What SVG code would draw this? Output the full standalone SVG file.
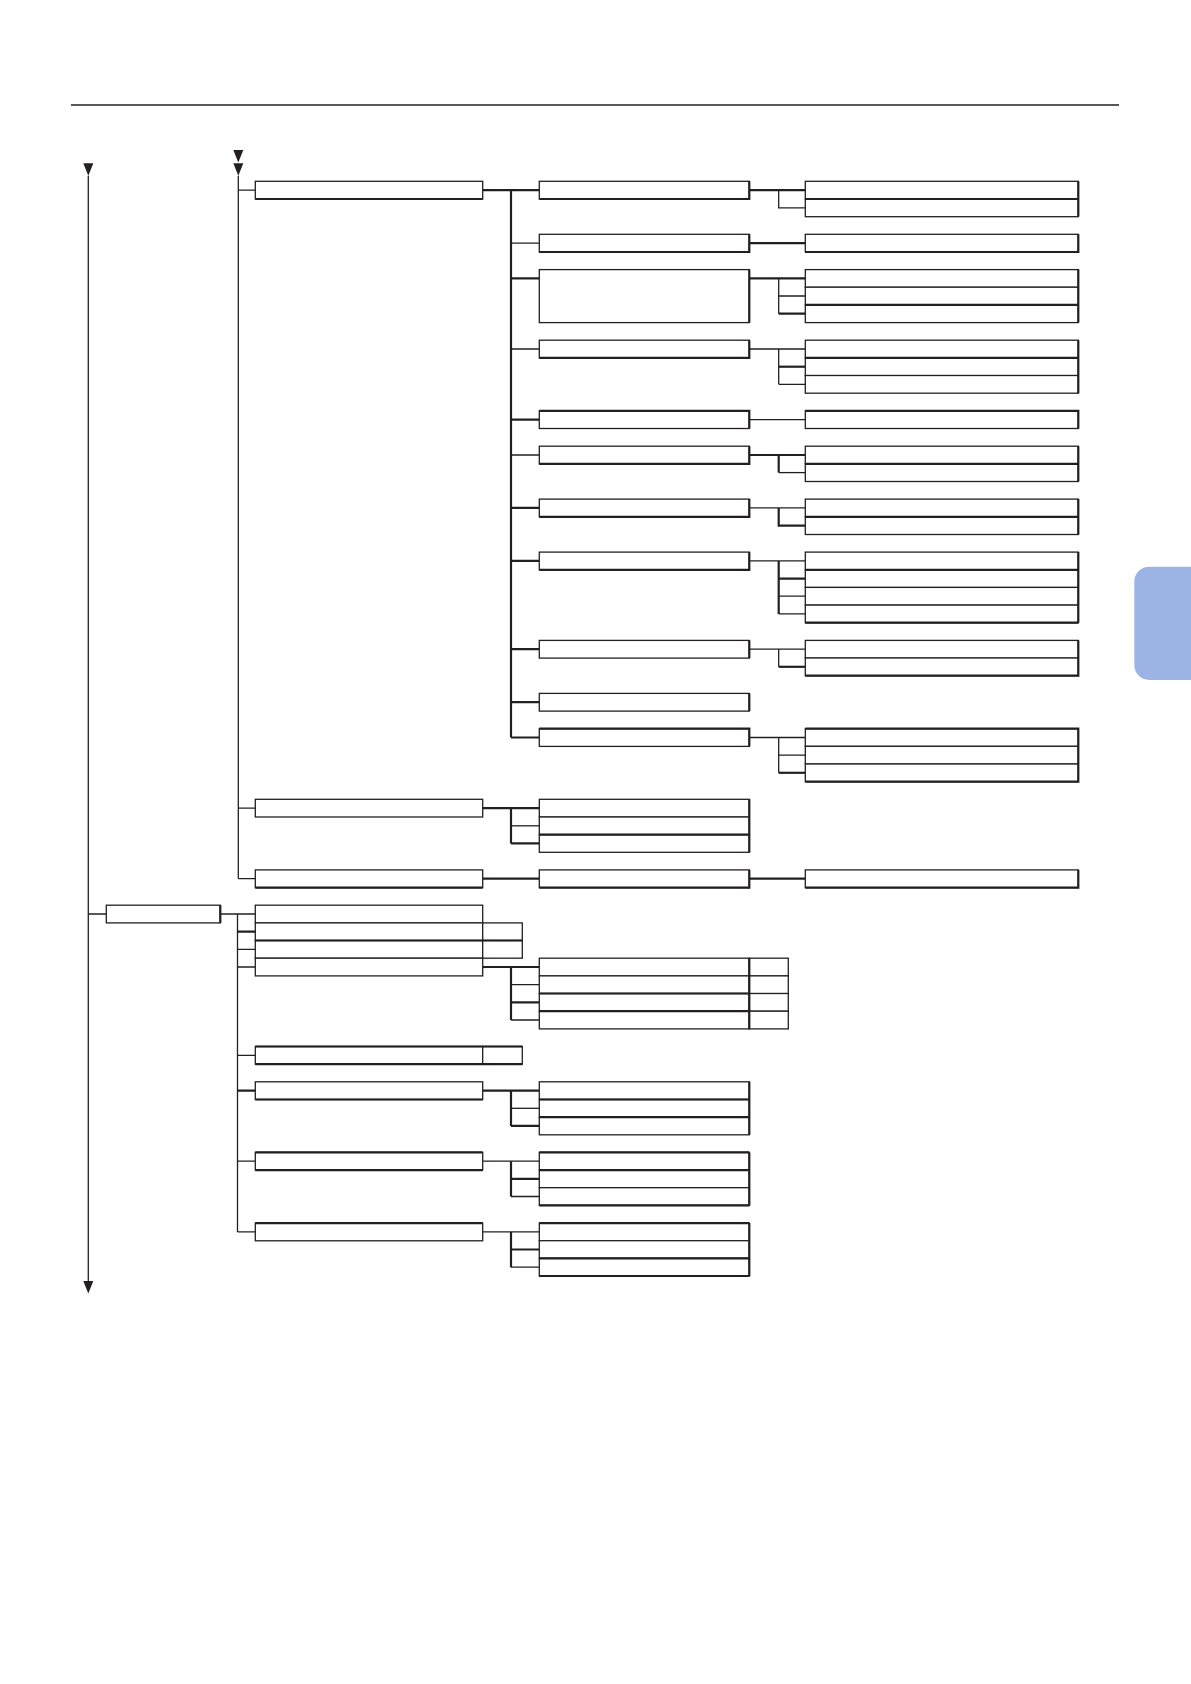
<svg xmlns="http://www.w3.org/2000/svg" width="1191" height="1684" viewBox="0 0 1191 1684">
<style>
.b{fill:#fff;stroke:#231f20;stroke-width:1.3}
.k{fill:none;stroke:#231f20;stroke-width:2.2}
.c{fill:none;stroke:#231f20;stroke-width:1.3}
.ck{fill:none;stroke:#231f20;stroke-width:2.2}
.ah{fill:#231f20}
</style>
<defs>
<path id="arr" d="M-5 0H5L0 12.4Z"/>
</defs>
<rect width="1191" height="1684" fill="#fff"/>
<path d="M71 105H1119" stroke="#231f20" stroke-width="1.3"/>
<path d="M1191 566.7H1149.3A15 15 0 0 0 1134.3 581.7V665A15 15 0 0 0 1149.3 680H1191Z" fill="#9bb4e3"/>

<g id="connectors">
<path class="c" d="M88.3 175.7V1281"/>
<use href="#arr" class="ah" x="88.3" y="163.3"/>
<use href="#arr" class="ah" x="88.3" y="1281"/>
<path class="c" d="M238.3 175.7V878.7"/>
<use href="#arr" class="ah" x="238.3" y="150"/>
<use href="#arr" class="ah" x="238.3" y="163.3"/>
<path class="c" d="M238.3 190.1H255.3M238.3 808.1H255.3M238.3 878.7H255.3"/>
<path class="c" d="M88.3 914H106.3M220.3 914H255.3M237.5 914V1231.9"/>
<path class="c" d="M237.5 949.3H255.3M237.5 967H255.3M237.5 1055.3H255.3M237.5 1161.2H255.3M237.5 1231.9H255.3"/>
<path class="ck" d="M237.5 931.7H255.3M237.5 1090.6H255.3"/>
<path class="ck" d="M511 190.1V737.5M482.7 190.1H539.3"/>
<path class="c" d="M511 243.1H539.3M511 349H539.3M511 455H539.3"/>
<path class="ck" d="M511 278.4H539.3M511 419.6H539.3M511 507.9H539.3M511 560.9H539.3M511 649.2H539.3M511 702.2H539.3M511 737.5H539.3"/>
<path class="ck" d="M482.7 808.1H539.3M511 808.1V843.4M511 843.4H539.3"/>
<path class="c" d="M511 825.8H539.3"/>
<path class="ck" d="M482.7 878.7H539.3M749.3 878.7H805.3"/>
<path class="ck" d="M482.7 967H539.3M511 967V1020M511 1002.3H539.3"/>
<path class="c" d="M511 984.7H539.3M511 1020H539.3"/>
<path class="ck" d="M482.7 1090.6H539.3M511 1090.6V1125.9M511 1125.9H539.3"/>
<path class="c" d="M511 1108.3H539.3"/>
<path class="c" d="M482.7 1161.2H539.3M511 1196.5H539.3"/>
<path class="ck" d="M511 1161.2V1196.5M511 1178.9H539.3"/>
<path class="c" d="M482.7 1231.9H539.3M511 1267.2H539.3"/>
<path class="ck" d="M511 1231.9V1267.2M511 1249.5H539.3"/>
<path class="ck" d="M749.3 190.1H805.3"/>
<path class="c" d="M778.7 190.1V207.8H805.3"/>
<path class="ck" d="M749.3 243.1H805.3"/>
<path class="ck" d="M749.3 278.4H805.3M778.7 313.7H805.3"/>
<path class="c" d="M778.7 278.4V313.7M778.7 296H805.3"/>
<path class="c" d="M749.3 349H805.3M778.7 349V384.3M778.7 384.3H805.3"/>
<path class="ck" d="M778.7 366.7H805.3"/>
<path class="c" d="M749.3 419.6H805.3"/>
<path class="ck" d="M749.3 455H805.3M778.7 455V472.6"/>
<path class="c" d="M778.7 472.6H805.3"/>
<path class="c" d="M749.3 507.9H805.3"/>
<path class="ck" d="M778.7 507.9V525.6H805.3"/>
<path class="c" d="M749.3 560.9H805.3M778.7 596.2H805.3M778.7 613.9H805.3"/>
<path class="ck" d="M778.7 560.9V613.9M778.7 578.6H805.3"/>
<path class="c" d="M749.3 649.2H805.3M778.7 649.2V666.8"/>
<path class="ck" d="M778.7 666.8H805.3"/>
<path class="c" d="M749.3 737.5H805.3M778.7 737.5V772.8M778.7 755.1H805.3"/>
<path class="ck" d="M778.7 772.8H805.3"/>
</g>

<g id="n-left"><rect class="b" x="106.3" y="905.2" width="114" height="17.7"/><path class="k" d="M220.3 905.2V922.9"/></g>

<g id="a1"><rect class="b" x="255.3" y="181.3" width="227.4" height="17.7"/><path class="k" d="M255.3 199H482.7"/></g>
<g id="a2"><rect class="b" x="255.3" y="799.3" width="227.4" height="17.7"/></g>
<g id="a3"><rect class="b" x="255.3" y="869.9" width="227.4" height="17.7"/><path class="k" d="M255.3 887.6H482.7"/></g>

<g id="b1"><rect class="b" x="539.3" y="181.3" width="210" height="17.7"/><path class="k" d="M539.3 199H749.3V181.3"/></g>
<g id="b2"><rect class="b" x="539.3" y="234.3" width="210" height="17.7"/><path class="k" d="M539.3 252H749.3V234.3"/></g>
<g id="b3"><rect class="b" x="539.3" y="269.6" width="210" height="53"/><path class="k" d="M749.3 269.6V322.6"/></g>
<g id="b4"><rect class="b" x="539.3" y="340.2" width="210" height="17.7"/><path class="k" d="M539.3 357.9H749.3V340.2"/></g>
<g id="b5"><rect class="b" x="539.3" y="410.8" width="210" height="17.7"/><path class="k" d="M539.3 410.8H749.3V428.5"/></g>
<g id="b6"><rect class="b" x="539.3" y="446.2" width="210" height="17.7"/><path class="k" d="M539.3 463.8H749.3V446.2"/></g>
<g id="b7"><rect class="b" x="539.3" y="499.1" width="210" height="17.7"/><path class="k" d="M539.3 516.8H749.3V499.1"/></g>
<g id="b8"><rect class="b" x="539.3" y="552.1" width="210" height="17.7"/><path class="k" d="M539.3 569.8H749.3V552.1"/></g>
<g id="b9"><rect class="b" x="539.3" y="640.4" width="210" height="17.7"/><path class="k" d="M749.3 640.4V658"/></g>
<g id="b10"><rect class="b" x="539.3" y="693.4" width="210" height="17.7"/><path class="k" d="M749.3 693.4V711"/></g>
<g id="b11"><rect class="b" x="539.3" y="728.7" width="210" height="17.7"/><path class="k" d="M539.3 728.7H749.3V746.3"/></g>

<g id="b-a2-1"><rect class="b" x="539.3" y="799.3" width="210" height="17.7"/></g>
<g id="b-a2-2"><rect class="b" x="539.3" y="817" width="210" height="17.7"/></g>
<g id="b-a2-3"><rect class="b" x="539.3" y="834.6" width="210" height="17.7"/><path class="k" d="M539.3 834.6H749.3M749.3 799.3V852.3"/></g>
<g id="b-a3"><rect class="b" x="539.3" y="869.9" width="210" height="17.7"/><path class="k" d="M539.3 887.6H749.3V869.9"/></g>

<g id="c-b1-1"><rect class="b" x="805.3" y="181.3" width="273" height="17.7"/></g>
<g id="c-b1-2"><rect class="b" x="805.3" y="199" width="273" height="17.7"/><path class="k" d="M805.3 199H1078.3M1078.3 181.3V216.6"/></g>
<g id="c-b2"><rect class="b" x="805.3" y="234.3" width="273" height="17.7"/><path class="k" d="M805.3 252H1078.3V234.3"/></g>
<g id="c-b3-1"><rect class="b" x="805.3" y="269.6" width="273" height="17.7"/></g>
<g id="c-b3-2"><rect class="b" x="805.3" y="287.2" width="273" height="17.7"/></g>
<g id="c-b3-3"><rect class="b" x="805.3" y="304.9" width="273" height="17.7"/><path class="k" d="M805.3 304.9H1078.3M1078.3 269.6V322.6"/></g>
<g id="c-b4-1"><rect class="b" x="805.3" y="340.2" width="273" height="17.7"/></g>
<g id="c-b4-2"><rect class="b" x="805.3" y="357.9" width="273" height="17.7"/></g>
<g id="c-b4-3"><rect class="b" x="805.3" y="375.5" width="273" height="17.7"/><path class="k" d="M805.3 357.9H1078.3M1078.3 340.2V393.2"/></g>
<g id="c-b5"><rect class="b" x="805.3" y="410.8" width="273" height="17.7"/><path class="k" d="M805.3 410.8H1078.3V428.5"/></g>
<g id="c-b6-1"><rect class="b" x="805.3" y="446.2" width="273" height="17.7"/></g>
<g id="c-b6-2"><rect class="b" x="805.3" y="463.8" width="273" height="17.7"/><path class="k" d="M805.3 463.8H1078.3M1078.3 446.2V481.5"/></g>
<g id="c-b7-1"><rect class="b" x="805.3" y="499.1" width="273" height="17.7"/></g>
<g id="c-b7-2"><rect class="b" x="805.3" y="516.8" width="273" height="17.7"/><path class="k" d="M805.3 516.8H1078.3M1078.3 499.1V534.4"/></g>
<g id="c-b8-1"><rect class="b" x="805.3" y="552.1" width="273" height="17.7"/></g>
<g id="c-b8-2"><rect class="b" x="805.3" y="569.8" width="273" height="17.7"/></g>
<g id="c-b8-3"><rect class="b" x="805.3" y="587.4" width="273" height="17.7"/></g>
<g id="c-b8-4"><rect class="b" x="805.3" y="605.1" width="273" height="17.7"/><path class="k" d="M805.3 569.8H1078.3M805.3 622.7H1078.3M1078.3 552.1V622.7"/></g>
<g id="c-b9-1"><rect class="b" x="805.3" y="640.4" width="273" height="17.7"/></g>
<g id="c-b9-2"><rect class="b" x="805.3" y="658" width="273" height="17.7"/><path class="k" d="M805.3 675.7H1078.3V640.4"/></g>
<g id="c-b11-1"><rect class="b" x="805.3" y="728.7" width="273" height="17.7"/></g>
<g id="c-b11-2"><rect class="b" x="805.3" y="746.3" width="273" height="17.7"/></g>
<g id="c-b11-3"><rect class="b" x="805.3" y="764" width="273" height="17.7"/><path class="k" d="M805.3 728.7H1078.3V781.6H805.3"/></g>
<g id="c-a3"><rect class="b" x="805.3" y="869.9" width="273" height="17.7"/><path class="k" d="M805.3 887.6H1078.3V869.9"/></g>

<g id="l-a1"><rect class="b" x="255.3" y="905.2" width="227.4" height="17.7"/></g>
<g id="l-a2"><rect class="b" x="255.3" y="922.9" width="227.4" height="17.7"/><rect class="b" x="482.7" y="922.9" width="39.6" height="17.7"/></g>
<g id="l-a3"><rect class="b" x="255.3" y="940.5" width="227.4" height="17.7"/><rect class="b" x="482.7" y="940.5" width="39.6" height="17.7"/><path class="k" d="M255.3 940.5H522.3"/></g>
<g id="l-a4"><rect class="b" x="255.3" y="958.2" width="227.4" height="17.7"/></g>
<g id="l-b1"><rect class="b" x="539.3" y="958.2" width="210" height="17.7"/><rect class="b" x="749.3" y="958.2" width="39" height="17.7"/></g>
<g id="l-b2"><rect class="b" x="539.3" y="975.9" width="210" height="17.7"/><rect class="b" x="749.3" y="975.9" width="39" height="17.7"/></g>
<g id="l-b3"><rect class="b" x="539.3" y="993.5" width="210" height="17.7"/><rect class="b" x="749.3" y="993.5" width="39" height="17.7"/></g>
<g id="l-b4"><rect class="b" x="539.3" y="1011.2" width="210" height="17.7"/><rect class="b" x="749.3" y="1011.2" width="39" height="17.7"/><path class="k" d="M539.3 993.5H749.3M539.3 1011.2H749.3M749.3 958.2V1028.8"/></g>
<g id="l-a5"><rect class="b" x="255.3" y="1046.5" width="227.4" height="17.7"/><rect class="b" x="482.7" y="1046.5" width="39.6" height="17.7"/><path class="k" d="M255.3 1046.5H522.3M255.3 1064.1H522.3"/></g>
<g id="l-a6"><rect class="b" x="255.3" y="1081.8" width="227.4" height="17.7"/><path class="k" d="M255.3 1099.5H482.7"/></g>
<g id="l-a6-1"><rect class="b" x="539.3" y="1081.8" width="210" height="17.7"/></g>
<g id="l-a6-2"><rect class="b" x="539.3" y="1099.5" width="210" height="17.7"/></g>
<g id="l-a6-3"><rect class="b" x="539.3" y="1117.1" width="210" height="17.7"/><path class="k" d="M539.3 1099.5H749.3M539.3 1117.1H749.3M749.3 1081.8V1134.8"/></g>
<g id="l-a7"><rect class="b" x="255.3" y="1152.4" width="227.4" height="17.7"/><path class="k" d="M255.3 1152.4H482.7M255.3 1170.1H482.7"/></g>
<g id="l-a7-1"><rect class="b" x="539.3" y="1152.4" width="210" height="17.7"/></g>
<g id="l-a7-2"><rect class="b" x="539.3" y="1170.1" width="210" height="17.7"/></g>
<g id="l-a7-3"><rect class="b" x="539.3" y="1187.7" width="210" height="17.7"/><path class="k" d="M539.3 1152.4H749.3M539.3 1170.1H749.3M539.3 1205.4H749.3M749.3 1152.4V1205.4"/></g>
<g id="l-a8"><rect class="b" x="255.3" y="1223.1" width="227.4" height="17.7"/><path class="k" d="M255.3 1223.1H482.7"/></g>
<g id="l-a8-1"><rect class="b" x="539.3" y="1223.1" width="210" height="17.7"/></g>
<g id="l-a8-2"><rect class="b" x="539.3" y="1240.7" width="210" height="17.7"/></g>
<g id="l-a8-3"><rect class="b" x="539.3" y="1258.4" width="210" height="17.7"/><path class="k" d="M539.3 1223.1H749.3M539.3 1258.4H749.3M539.3 1276H749.3M749.3 1223.1V1276"/></g>
</svg>
